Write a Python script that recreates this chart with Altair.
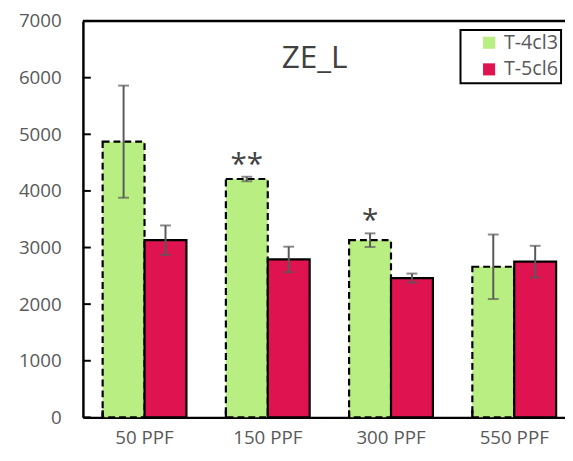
import altair as alt
import pandas as pd

categories = ["50 PPF", "150 PPF", "300 PPF", "550 PPF"]
series = ["T-4cl3", "T-5cl6"]
t4_mean = [4870, 4210, 3130, 2660]
t4_err = [990, 40, 120, 570]
t5_mean = [3130, 2790, 2460, 2750]
t5_err = [260, 225, 80, 280]
t4_sig = ["", "**", "*", ""]
t5_sig = ["", "", "", ""]
y_ticks = [0, 1000, 2000, 3000, 4000, 5000, 6000, 7000]
title_text = ["ZE_L"]

rows = []
for i, c in enumerate(categories):
    rows.append(dict(cat=c, series=series[0], value=t4_mean[i], lo=t4_mean[i] - t4_err[i],
                     hi=t4_mean[i] + t4_err[i], sig=t4_sig[i]))
    rows.append(dict(cat=c, series=series[1], value=t5_mean[i], lo=t5_mean[i] - t5_err[i],
                     hi=t5_mean[i] + t5_err[i], sig=t5_sig[i]))
df = pd.DataFrame(rows)
tick_df = pd.DataFrame({"v": y_ticks})

W, H = 489, 402
GRAY = "#595959"
GREEN = "#b9ef82"
RED = "#de1350"

xenc = alt.X("cat:N", sort=categories,
             scale=alt.Scale(range=[0, 500], paddingInner=0.32, paddingOuter=0.16),
             axis=alt.Axis(title=None, labelAngle=0, labelFontSize=19, labelColor=GRAY,
                           tickSize=0, labelPadding=12, domainColor="black", domainWidth=2.5))
xoff = alt.XOffset("series:N", sort=series, scale=alt.Scale(paddingInner=0, paddingOuter=0))
yscale = alt.Scale(domain=[0, 7000], nice=False)
yenc = alt.Y("value:Q", scale=yscale,
             axis=alt.Axis(title=None, values=y_ticks, format="d", tickSize=0, labelPadding=22,
                           labelFontSize=19, labelColor=GRAY, grid=False,
                           domainColor="black", domainWidth=2.5))

leg = alt.Legend(title=None, orient="none", legendX=383, legendY=9,
                 symbolStrokeColor="black", symbolStrokeWidth=2,
                 labelExpr="datum.label + '\u00a0\u00a0'")
base = alt.Chart(df)

bars = base.mark_bar(stroke="black", strokeWidth=2.2).encode(
    x=xenc, xOffset=xoff, y=yenc,
    fill=alt.Fill("series:N", sort=series, scale=alt.Scale(domain=series, range=[GREEN, RED]), legend=leg),
    strokeDash=alt.StrokeDash("series:N", sort=series,
                              scale=alt.Scale(domain=series, range=[[7, 4], [1, 0]]), legend=leg),
)

err = base.mark_rule(color=GRAY, strokeWidth=2).encode(
    x=alt.X("cat:N", sort=categories), xOffset=alt.XOffset("series:N", sort=series),
    y=alt.Y("lo:Q"), y2="hi:Q")
cap_lo = base.mark_tick(color=GRAY, thickness=2, size=11).encode(
    x=alt.X("cat:N", sort=categories), xOffset=alt.XOffset("series:N", sort=series), y=alt.Y("lo:Q"))
cap_hi = base.mark_tick(color=GRAY, thickness=2, size=11).encode(
    x=alt.X("cat:N", sort=categories), xOffset=alt.XOffset("series:N", sort=series), y=alt.Y("hi:Q"))

stars = base.mark_text(fontSize=30, color="#404040", baseline="alphabetic", dy=-3).encode(
    x=alt.X("cat:N", sort=categories), xOffset=alt.XOffset("series:N", sort=series),
    y=alt.Y("hi:Q"), text="sig:N")

yt = alt.Chart(tick_df).mark_rule(color="black", strokeWidth=2).encode(
    y=alt.Y("v:Q", scale=yscale), x=alt.value(0), x2=alt.value(8))

xt = base.mark_rule(color="black", strokeWidth=2).encode(
    x=alt.X("cat:N", sort=categories, bandPosition=0), y=alt.value(H), y2=alt.value(H - 7))

top = alt.Chart(tick_df).transform_filter("datum.v == 7000").mark_rule(color="black", strokeWidth=2.5).encode(
    y=alt.Y("v:Q", scale=yscale), x=alt.value(0), x2=alt.value(W))

title = alt.Chart(pd.DataFrame({"t": title_text})).mark_text(
    fontSize=32, color="#404040", baseline="alphabetic", align="center").encode(
    text="t:N", x=alt.value(235), y=alt.value(48))

chart = alt.layer(bars, err, cap_lo, cap_hi, stars, yt, xt, top, title).properties(
    width=W, height=H,
    autosize=alt.AutoSizeParams(type="none"),
    padding={"left": 76, "top": 10, "right": 0, "bottom": 41},
).configure(font="Open Sans").configure_view(stroke=None).configure_legend(
    strokeColor="black", strokeWidth=2, padding=3, symbolOffset=16, symbolType="square",
    symbolSize=150, labelFontSize=20,
    labelColor=GRAY, rowPadding=5, labelOffset=5, fillColor="white")

chart.save("out.html", embed_options={"renderer": "svg", "actions": False})
